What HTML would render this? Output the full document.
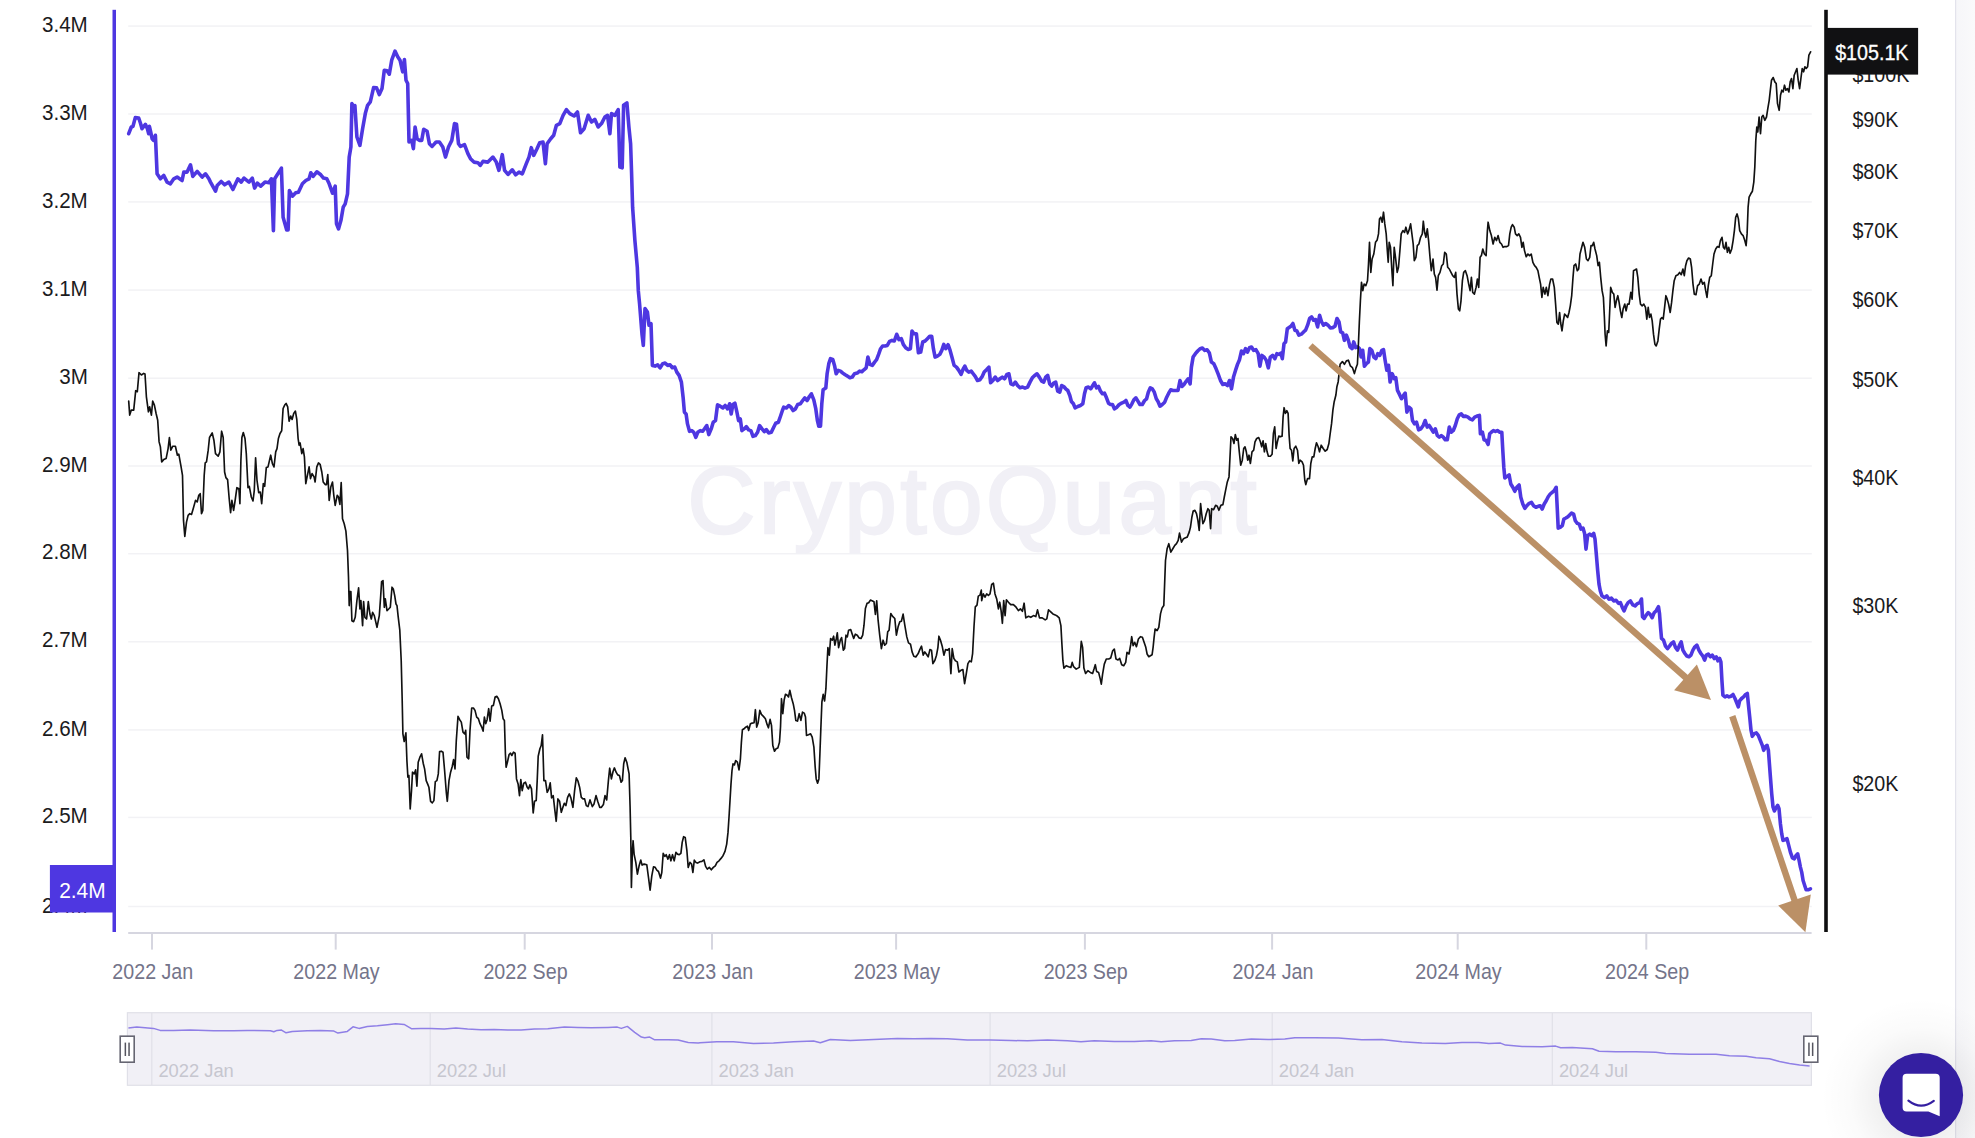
<!DOCTYPE html><html><head><meta charset="utf-8"><title>Chart</title><style>html,body{margin:0;padding:0;background:#fff;}body{width:1975px;height:1138px;overflow:hidden;position:relative;font-family:"Liberation Sans",sans-serif;}svg{display:block;position:absolute;left:0;top:0}text{font-family:"Liberation Sans",sans-serif;}</style></head><body>
<svg width="1975" height="1138" viewBox="0 0 1975 1138">
<defs><radialGradient id="glow" cx="50%" cy="50%" r="50%"><stop offset="0.4" stop-color="#000" stop-opacity="0.06"/><stop offset="0.7" stop-color="#000" stop-opacity="0.018"/><stop offset="1" stop-color="#000" stop-opacity="0"/></radialGradient><linearGradient id="strip" x1="0" x2="1" y1="0" y2="0"><stop offset="0" stop-color="#f6f6f9"/><stop offset="1" stop-color="#fafafb"/></linearGradient><clipPath id="wm"><rect x="600" y="400" width="800" height="153.7"/></clipPath></defs>
<rect width="1975" height="1138" fill="#fff"/>
<rect x="1956" y="0" width="19" height="1138" fill="url(#strip)"/>
<rect x="1955" y="0" width="1.2" height="1138" fill="#e3e3ec"/>
<rect x="128.2" y="25.35" width="1683.6" height="1.5" fill="#f2f2f5"/>
<rect x="128.2" y="113.25" width="1683.6" height="1.5" fill="#f2f2f5"/>
<rect x="128.2" y="201.15" width="1683.6" height="1.5" fill="#f2f2f5"/>
<rect x="128.2" y="289.35" width="1683.6" height="1.5" fill="#f2f2f5"/>
<rect x="128.2" y="377.45" width="1683.6" height="1.5" fill="#f2f2f5"/>
<rect x="128.2" y="465.25" width="1683.6" height="1.5" fill="#f2f2f5"/>
<rect x="128.2" y="552.95" width="1683.6" height="1.5" fill="#f2f2f5"/>
<rect x="128.2" y="641.05" width="1683.6" height="1.5" fill="#f2f2f5"/>
<rect x="128.2" y="729.15" width="1683.6" height="1.5" fill="#f2f2f5"/>
<rect x="128.2" y="816.65" width="1683.6" height="1.5" fill="#f2f2f5"/>
<rect x="128.2" y="905.75" width="1683.6" height="1.5" fill="#f2f2f5"/>
<g clip-path="url(#wm)"><text x="687.5" y="533.4" font-size="93.8" textLength="569" lengthAdjust="spacing" fill="#f1f0f6" stroke="#f1f0f6" stroke-width="2.5">CryptoQuant</text></g>
<rect x="128.2" y="932" width="1683.4" height="2" fill="#d6d6e0"/>
<rect x="151.0" y="933" width="2" height="16.6" fill="#d6d6e0"/>
<text transform="translate(152.80 979.20) scale(0.89 1)" font-size="22.1" text-anchor="middle" fill="#74748a">2022 Jan</text>
<rect x="334.7" y="933" width="2" height="16.6" fill="#d6d6e0"/>
<text transform="translate(336.50 979.20) scale(0.89 1)" font-size="22.1" text-anchor="middle" fill="#74748a">2022 May</text>
<rect x="523.7" y="933" width="2" height="16.6" fill="#d6d6e0"/>
<text transform="translate(525.50 979.20) scale(0.89 1)" font-size="22.1" text-anchor="middle" fill="#74748a">2022 Sep</text>
<rect x="711.0" y="933" width="2" height="16.6" fill="#d6d6e0"/>
<text transform="translate(712.80 979.20) scale(0.89 1)" font-size="22.1" text-anchor="middle" fill="#74748a">2023 Jan</text>
<rect x="895.1" y="933" width="2" height="16.6" fill="#d6d6e0"/>
<text transform="translate(896.90 979.20) scale(0.89 1)" font-size="22.1" text-anchor="middle" fill="#74748a">2023 May</text>
<rect x="1083.9" y="933" width="2" height="16.6" fill="#d6d6e0"/>
<text transform="translate(1085.70 979.20) scale(0.89 1)" font-size="22.1" text-anchor="middle" fill="#74748a">2023 Sep</text>
<rect x="1271.1" y="933" width="2" height="16.6" fill="#d6d6e0"/>
<text transform="translate(1272.90 979.20) scale(0.89 1)" font-size="22.1" text-anchor="middle" fill="#74748a">2024 Jan</text>
<rect x="1456.7" y="933" width="2" height="16.6" fill="#d6d6e0"/>
<text transform="translate(1458.50 979.20) scale(0.89 1)" font-size="22.1" text-anchor="middle" fill="#74748a">2024 May</text>
<rect x="1645.3" y="933" width="2" height="16.6" fill="#d6d6e0"/>
<text transform="translate(1647.10 979.20) scale(0.89 1)" font-size="22.1" text-anchor="middle" fill="#74748a">2024 Sep</text>
<text transform="translate(87.80 31.70) scale(0.95 1)" font-size="21.7" text-anchor="end" fill="#1b1b1d">3.4M</text>
<text transform="translate(87.80 119.60) scale(0.95 1)" font-size="21.7" text-anchor="end" fill="#1b1b1d">3.3M</text>
<text transform="translate(87.80 207.50) scale(0.95 1)" font-size="21.7" text-anchor="end" fill="#1b1b1d">3.2M</text>
<text transform="translate(87.80 295.70) scale(0.95 1)" font-size="21.7" text-anchor="end" fill="#1b1b1d">3.1M</text>
<text transform="translate(87.80 383.80) scale(0.95 1)" font-size="21.7" text-anchor="end" fill="#1b1b1d">3M</text>
<text transform="translate(87.80 471.60) scale(0.95 1)" font-size="21.7" text-anchor="end" fill="#1b1b1d">2.9M</text>
<text transform="translate(87.80 559.30) scale(0.95 1)" font-size="21.7" text-anchor="end" fill="#1b1b1d">2.8M</text>
<text transform="translate(87.80 647.40) scale(0.95 1)" font-size="21.7" text-anchor="end" fill="#1b1b1d">2.7M</text>
<text transform="translate(87.80 735.50) scale(0.95 1)" font-size="21.7" text-anchor="end" fill="#1b1b1d">2.6M</text>
<text transform="translate(87.80 823.00) scale(0.95 1)" font-size="21.7" text-anchor="end" fill="#1b1b1d">2.5M</text>
<text transform="translate(87.80 913.00) scale(0.95 1)" font-size="21.7" text-anchor="end" fill="#1b1b1d">2.4M</text>
<text transform="translate(1852.40 81.65) scale(0.912 1)" font-size="21.6" text-anchor="start" fill="#1b1b1d">$100K</text>
<text transform="translate(1852.40 126.65) scale(0.912 1)" font-size="21.6" text-anchor="start" fill="#1b1b1d">$90K</text>
<text transform="translate(1852.40 179.14) scale(0.912 1)" font-size="21.6" text-anchor="start" fill="#1b1b1d">$80K</text>
<text transform="translate(1852.40 238.40) scale(0.912 1)" font-size="21.6" text-anchor="start" fill="#1b1b1d">$70K</text>
<text transform="translate(1852.40 306.83) scale(0.912 1)" font-size="21.6" text-anchor="start" fill="#1b1b1d">$60K</text>
<text transform="translate(1852.40 387.02) scale(0.912 1)" font-size="21.6" text-anchor="start" fill="#1b1b1d">$50K</text>
<text transform="translate(1852.40 484.62) scale(0.912 1)" font-size="21.6" text-anchor="start" fill="#1b1b1d">$40K</text>
<text transform="translate(1852.40 612.56) scale(0.912 1)" font-size="21.6" text-anchor="start" fill="#1b1b1d">$30K</text>
<text transform="translate(1852.40 791.20) scale(0.912 1)" font-size="21.6" text-anchor="start" fill="#1b1b1d">$20K</text>
<path d="M128.7 133.7L131.3 127.0L133.0 126.3L135.3 117.6L138.7 118.0L140.4 123.0L142.0 128.7L145.4 124.3L147.4 128.7L148.7 133.7L149.4 126.3L150.7 132.0L152.1 138.7L153.7 140.4L155.4 135.3L157.1 173.8L160.4 178.8L163.7 175.4L167.1 182.1L170.4 183.8L173.8 178.8L177.1 177.1L182.1 180.5L183.8 172.1L187.1 172.1L190.5 164.8L192.8 176.4L197.2 171.4L202.2 177.1L205.5 173.8L208.9 178.8L210.5 182.1L215.5 191.2L217.2 185.5L221.2 181.5L224.6 184.8L228.9 182.1L232.9 189.5L237.9 178.8L241.3 182.1L244.0 178.1L249.0 182.1L252.3 178.1L254.6 188.1L257.3 183.1L260.7 186.1L265.0 182.1L269.0 182.8L271.4 178.8L273.4 230.6L274.7 178.8L281.4 168.1L283.1 217.2L286.7 229.9L288.1 229.9L289.4 190.5L292.4 196.2L295.7 192.8L298.4 192.2L302.4 183.8L305.8 180.5L309.1 178.8L310.8 172.8L313.1 176.4L316.8 171.8L320.8 174.8L323.5 178.1L326.8 178.8L329.2 183.8L332.5 193.2L335.2 186.1L336.5 223.9L338.5 228.9L340.9 220.6L343.2 207.2L345.2 203.8L347.5 193.8L349.2 157.1L350.9 147.0L351.9 103.6L353.6 106.3L354.9 105.6L356.9 137.0L359.9 145.4L362.6 128.7L365.3 113.6L367.6 105.3L370.3 101.9L373.6 87.6L376.6 87.9L379.3 94.6L382.0 88.6L384.3 70.2L387.0 70.8L389.3 74.2L391.7 60.2L395.0 51.1L397.7 56.8L400.0 60.2L402.7 71.8L404.4 59.5L406.0 80.2L407.7 83.5L409.0 142.0L411.7 140.4L413.4 148.7L415.1 127.0L417.1 138.7L419.4 140.4L421.7 140.4L423.7 129.3L427.1 131.3L429.4 143.7L432.1 146.4L436.1 142.0L439.4 142.0L442.8 147.0L445.5 157.1L448.5 147.0L451.8 140.4L454.5 123.6L456.5 124.3L458.5 143.7L460.5 146.4L464.5 144.7L467.9 153.7L470.5 158.7L473.9 162.1L477.9 162.7L480.2 165.4L482.9 161.4L487.9 162.1L492.9 157.1L496.3 162.1L498.9 170.4L502.3 154.7L504.6 170.4L508.0 174.4L512.3 169.8L515.6 174.8L519.0 172.1L522.3 173.8L526.3 163.7L529.0 157.1L531.3 147.7L533.7 155.4L537.0 148.7L539.7 142.7L543.0 142.0L545.4 163.7L547.1 143.7L550.7 138.7L553.7 135.3L556.4 125.3L559.8 123.6L563.1 115.3L566.4 109.6L569.8 113.6L574.1 116.0L577.5 112.0L580.5 132.7L584.1 128.7L588.2 115.3L591.5 122.0L594.8 119.3L598.2 127.0L601.5 123.6L604.9 117.0L607.5 115.3L609.9 133.7L611.5 113.6L614.9 115.3L618.2 109.6L619.9 167.1L622.2 167.8L623.6 105.3L626.9 102.9L628.9 127.0L630.6 143.7L631.6 173.8L632.6 207.2L634.9 240.6L637.3 267.3L638.3 290.7L639.6 304.1L642.0 334.2L643.3 345.2L643.3 345.4L645.0 308.6L647.4 312.0L649.0 325.3L651.0 323.6L652.4 365.4L655.0 366.1L657.7 364.8L660.1 367.8L662.7 363.7L665.1 363.1L667.7 365.4L670.1 364.8L672.4 367.8L674.8 367.1L676.8 372.1L679.1 375.4L681.4 382.1L683.1 397.2L684.4 412.2L686.1 413.9L687.5 423.9L689.5 431.3L691.8 430.6L693.8 432.3L695.8 437.3L697.8 432.3L700.2 430.6L702.5 431.3L704.5 428.9L706.8 425.6L708.8 434.6L711.2 428.9L713.2 422.2L715.5 420.6L717.5 404.9L720.2 406.2L722.9 407.9L725.2 405.5L727.6 408.9L729.6 403.8L731.2 413.9L732.9 404.5L734.9 403.2L736.9 412.2L738.6 420.6L740.3 418.9L741.9 430.6L744.3 428.9L746.3 426.6L748.6 429.9L750.9 430.6L753.0 436.3L755.3 435.6L757.6 432.3L759.6 425.6L762.0 428.9L764.3 431.6L766.3 429.6L768.7 432.9L771.3 432.3L773.7 427.2L775.7 423.2L778.4 422.2L780.4 416.5L782.4 410.5L783.7 407.2L786.4 407.9L788.7 405.5L791.0 407.2L793.1 410.5L795.4 408.9L797.7 404.5L800.4 403.8L802.7 400.5L804.8 397.8L807.1 400.5L809.4 396.5L811.4 393.8L813.8 399.8L815.8 408.9L817.4 420.6L818.8 426.2L820.5 426.2L821.8 403.8L823.1 389.8L825.8 388.1L827.1 373.8L828.8 363.7L830.5 358.7L832.8 359.4L834.5 365.4L836.2 373.8L838.2 370.4L840.5 371.1L842.8 373.1L845.2 374.8L847.5 376.1L849.9 377.8L852.2 377.1L854.5 373.8L857.2 373.1L859.6 371.1L861.9 371.8L863.9 369.8L866.2 367.8L867.9 357.1L869.9 364.4L872.3 365.4L874.6 362.1L876.6 359.7L878.6 354.4L880.6 348.7L882.6 346.0L885.0 346.0L887.3 345.4L889.6 341.4L892.0 340.4L894.3 341.0L896.7 334.3L899.0 339.7L901.3 338.7L903.3 344.4L905.7 347.7L908.0 349.4L910.4 348.7L912.0 331.0L914.0 333.7L916.4 333.7L918.4 352.7L920.7 352.1L922.7 342.0L925.1 341.0L927.4 338.7L929.7 336.3L931.7 336.3L933.4 348.7L935.1 357.1L937.4 356.1L939.8 354.4L941.8 350.4L943.8 344.4L945.8 348.7L948.1 344.7L950.1 350.4L952.1 357.7L954.1 365.4L956.5 367.1L958.8 370.4L961.1 374.4L963.2 368.8L964.8 366.1L966.8 370.4L968.8 372.1L971.2 371.1L973.2 373.8L975.2 376.4L977.5 380.5L979.9 379.8L982.2 376.4L984.2 372.1L986.5 369.8L988.9 367.1L990.6 382.8L992.9 380.5L995.2 377.1L997.6 380.5L999.9 378.8L1002.3 377.1L1004.6 378.8L1006.9 374.4L1008.9 373.8L1010.9 383.8L1013.3 384.8L1015.3 382.1L1017.6 385.5L1020.0 387.8L1022.6 387.1L1025.0 388.1L1027.6 387.1L1030.0 382.1L1032.3 377.8L1034.7 375.4L1037.0 373.8L1039.3 377.1L1041.7 381.1L1043.7 382.1L1045.7 377.1L1047.7 375.4L1049.7 383.8L1051.7 386.1L1053.7 383.1L1055.7 382.1L1057.7 391.2L1059.7 392.2L1061.7 385.5L1063.7 386.5L1065.7 388.8L1067.8 390.5L1069.8 395.5L1071.4 401.5L1073.4 403.8L1075.1 407.9L1077.8 406.5L1080.4 405.5L1082.8 403.8L1084.5 393.8L1086.1 387.8L1088.5 387.1L1090.8 388.8L1092.8 385.5L1094.5 382.8L1096.5 387.8L1098.5 386.5L1100.5 391.2L1102.5 393.8L1104.5 393.2L1106.5 397.8L1108.5 403.2L1110.5 404.5L1112.5 404.5L1114.5 408.9L1116.9 407.2L1119.2 404.5L1121.6 403.2L1123.9 402.2L1125.9 400.5L1127.9 405.5L1129.9 407.2L1131.9 403.8L1133.9 399.8L1135.9 397.8L1137.9 401.2L1139.9 404.5L1142.3 404.5L1144.6 400.5L1146.6 398.8L1148.3 392.2L1150.3 387.8L1152.3 388.8L1154.3 392.2L1156.3 398.8L1158.0 401.5L1160.0 406.2L1162.3 404.5L1164.7 402.2L1166.7 397.2L1168.7 393.2L1170.7 389.8L1173.0 390.5L1175.4 390.5L1178.0 390.5L1180.0 380.5L1182.0 386.5L1184.0 384.5L1186.0 381.5L1188.1 378.8L1190.1 383.8L1191.4 367.1L1193.1 357.1L1195.4 353.7L1197.7 351.0L1200.1 348.7L1202.4 348.0L1204.8 350.4L1207.1 349.7L1209.4 353.1L1211.4 362.1L1213.8 363.7L1216.1 368.8L1218.1 373.8L1220.5 380.5L1222.8 384.5L1225.1 383.8L1227.5 385.5L1229.5 380.5L1231.5 388.8L1233.5 377.1L1235.5 370.4L1237.5 364.4L1239.5 359.7L1241.5 351.0L1243.5 353.7L1245.5 348.7L1247.5 352.1L1249.5 347.7L1251.5 347.0L1253.6 350.4L1255.9 349.7L1258.2 353.7L1259.9 366.1L1261.9 355.4L1264.2 357.1L1266.3 360.4L1268.3 367.8L1270.3 357.1L1272.6 355.4L1274.9 358.7L1276.9 353.7L1279.0 354.4L1281.0 353.1L1282.3 358.7L1284.0 343.7L1285.6 342.0L1287.3 328.7L1290.9 326.2L1292.9 323.5L1294.9 330.2L1296.9 330.9L1298.9 335.2L1301.3 334.2L1303.6 331.9L1305.6 330.2L1307.6 325.2L1309.6 318.5L1311.6 316.9L1313.6 320.2L1315.6 319.5L1317.6 326.9L1319.6 315.2L1321.6 321.9L1323.6 325.2L1325.7 323.5L1328.0 325.2L1330.3 327.9L1332.7 327.6L1335.0 326.2L1337.0 318.5L1339.0 321.9L1340.7 331.9L1342.7 332.9L1344.4 340.3L1346.4 335.2L1348.4 340.3L1350.0 346.9L1352.1 348.6L1353.7 341.9L1355.7 347.6L1357.7 346.9L1359.4 348.6L1361.1 357.0L1362.7 350.3L1364.4 366.3L1366.4 363.6L1368.4 362.0L1369.8 348.6L1371.8 350.3L1373.8 357.0L1375.8 358.6L1377.8 353.6L1379.8 355.3L1381.8 350.3L1383.5 349.6L1385.1 360.3L1386.8 370.3L1388.5 365.3L1390.1 382.0L1392.2 373.7L1394.2 378.7L1395.8 377.7L1397.5 390.4L1399.5 394.4L1401.5 398.7L1403.5 395.4L1405.2 393.1L1406.9 412.1L1408.9 407.1L1410.9 408.8L1412.5 420.5L1414.5 423.8L1416.5 422.1L1418.6 429.8L1420.9 428.8L1423.2 425.5L1425.2 420.5L1427.2 427.1L1429.2 425.5L1431.3 428.8L1433.3 432.2L1435.3 428.8L1437.3 435.5L1439.3 437.2L1441.3 435.5L1443.3 437.2L1445.3 439.8L1447.3 439.8L1449.3 427.1L1451.3 432.2L1453.3 430.5L1455.3 425.5L1457.3 418.8L1459.3 414.8L1461.3 413.8L1463.3 416.4L1465.7 416.1L1468.0 417.1L1470.0 418.8L1472.4 419.8L1474.7 417.1L1477.0 416.1L1479.4 415.4L1480.4 433.8L1482.4 432.2L1484.1 439.8L1486.1 440.5L1488.1 444.5L1489.7 433.8L1491.4 432.2L1493.4 430.5L1495.4 431.5L1497.4 430.5L1499.8 432.2L1501.8 432.2L1502.8 450.5L1503.8 467.2L1504.8 477.9L1506.8 476.6L1509.1 474.9L1510.8 484.0L1512.8 487.3L1514.8 491.3L1516.8 487.3L1519.1 485.0L1520.8 497.3L1522.8 504.0L1524.8 508.3L1526.8 505.7L1529.2 503.3L1531.5 502.3L1533.5 505.7L1535.9 507.3L1538.2 506.3L1540.2 505.7L1542.2 509.0L1544.2 504.0L1546.2 500.7L1548.2 496.7L1550.2 494.0L1552.2 492.3L1554.2 490.6L1556.2 487.3L1557.2 507.3L1558.2 528.1L1560.2 527.4L1562.3 525.7L1563.9 519.0L1565.9 518.0L1567.9 516.7L1569.9 514.7L1571.6 513.0L1573.6 514.0L1575.3 520.7L1577.3 523.4L1579.3 524.1L1581.0 529.1L1583.0 528.1L1584.6 533.4L1586.0 549.1L1587.6 535.7L1589.7 534.1L1591.7 535.7L1593.7 533.4L1595.0 539.1L1596.3 554.1L1597.7 570.8L1599.0 584.2L1600.3 590.9L1602.0 595.9L1604.4 597.6L1606.7 595.9L1609.0 599.2L1611.4 598.2L1613.7 600.9L1616.1 600.2L1618.4 603.3L1620.4 602.6L1622.4 607.6L1624.1 610.9L1626.1 605.9L1628.1 602.6L1630.4 600.9L1632.8 604.9L1635.1 605.9L1637.4 603.6L1639.8 602.6L1641.5 599.0L1642.5 616.7L1644.2 618.4L1646.2 615.1L1648.2 612.7L1650.2 614.4L1652.2 617.7L1654.2 612.7L1656.2 610.7L1658.5 606.7L1659.5 613.4L1660.5 626.8L1661.5 638.4L1663.5 640.1L1665.5 646.1L1667.5 648.5L1669.5 646.1L1671.5 643.4L1673.5 641.8L1675.5 647.5L1677.5 650.1L1679.5 645.1L1681.2 641.8L1682.9 650.1L1684.9 653.5L1686.9 656.1L1688.9 656.8L1690.9 655.1L1692.9 650.1L1694.9 646.8L1696.9 645.1L1698.9 650.1L1700.9 653.5L1702.9 656.1L1704.6 660.1L1706.3 655.1L1708.3 654.1L1710.3 656.8L1712.3 655.1L1714.3 658.5L1716.3 656.8L1717.9 660.8L1719.6 658.5L1720.9 661.8L1721.9 680.2L1722.9 695.2L1725.0 696.9L1727.0 695.9L1729.0 696.9L1731.0 696.2L1733.0 694.5L1735.0 698.5L1737.0 703.5L1738.3 706.9L1739.6 700.9L1741.6 698.5L1743.6 696.9L1745.6 694.5L1747.3 693.5L1748.3 703.5L1749.7 716.9L1751.0 730.2L1752.3 736.3L1754.3 733.6L1756.3 732.9L1758.3 735.3L1760.3 740.3L1762.3 745.3L1763.7 750.3L1765.3 746.9L1767.0 745.3L1768.4 750.3L1769.4 763.6L1770.4 777.0L1771.7 793.7L1773.0 807.0L1774.4 811.0L1776.0 807.7L1777.7 805.4L1779.0 808.7L1780.4 823.7L1781.7 833.7L1783.0 840.4L1785.0 839.7L1787.0 838.7L1788.7 845.4L1790.4 852.1L1792.4 857.8L1794.4 858.8L1796.1 855.4L1797.7 853.8L1799.1 860.4L1800.4 867.1L1801.7 872.1L1803.1 880.5L1804.7 885.5L1806.1 889.8L1808.1 889.8L1810.4 888.8" fill="none" stroke="#4e37e1" stroke-width="3.6" stroke-linejoin="round" stroke-linecap="round"/>
<path d="M128.7 401.1L129.7 415.1L131.3 410.1L133.7 410.1L135.7 390.7L137.3 391.7L139.0 372.7L141.4 375.0L143.7 373.4L145.0 374.0L146.4 396.8L148.4 411.8L149.7 406.8L151.4 415.1L152.7 401.1L154.4 405.1L156.1 413.5L157.7 420.2L159.1 441.9L160.4 446.9L161.7 461.9L163.7 459.6L166.1 458.6L168.1 448.6L169.4 437.5L170.8 450.2L172.8 446.2L175.4 446.2L177.4 455.2L178.8 454.2L181.1 466.9L182.5 475.3L183.5 520.4L184.8 536.4L186.5 522.1L188.1 515.4L189.8 513.7L191.5 514.4L193.2 508.7L195.5 500.4L197.2 502.0L198.8 495.3L200.2 493.7L201.5 513.7L202.8 510.4L204.2 475.3L205.2 462.9L206.5 461.9L208.2 450.2L209.5 437.5L212.2 432.9L213.9 440.2L215.5 453.6L218.2 456.2L219.9 451.9L221.6 431.2L223.2 437.5L224.6 472.0L225.9 477.6L227.6 479.6L229.2 498.7L230.6 512.7L231.9 500.4L233.6 510.4L234.9 502.0L236.9 487.7L238.9 488.7L239.9 503.7L240.9 460.3L241.9 437.5L243.3 432.5L245.0 438.5L246.3 453.6L248.0 487.7L249.3 486.3L251.3 497.0L253.0 501.0L254.3 490.3L255.6 457.9L257.0 480.3L258.7 492.7L260.3 492.0L261.7 503.7L263.3 483.6L264.7 486.3L266.3 467.6L268.0 466.9L270.7 455.2L272.4 463.6L274.0 466.9L275.7 451.9L277.0 448.6L278.4 438.5L280.0 433.5L281.7 430.8L283.1 408.5L284.7 405.1L286.1 403.4L287.7 406.8L289.1 421.2L290.7 416.1L292.1 419.5L293.7 413.5L295.4 411.1L296.8 419.5L298.1 438.5L299.1 445.2L300.1 442.9L301.8 453.6L303.1 448.6L304.4 456.9L305.8 483.6L307.4 475.3L309.1 466.9L310.5 478.6L312.1 473.6L314.1 477.0L315.1 482.0L316.8 466.9L318.5 462.9L320.1 464.3L321.8 472.0L323.2 482.0L325.2 484.6L326.5 484.6L327.8 474.6L329.2 500.4L330.8 487.0L332.5 482.0L333.8 495.3L335.2 505.4L337.2 495.3L338.5 497.0L339.9 504.4L341.2 482.6L342.5 518.7L344.2 523.7L345.9 531.1L347.5 550.5L348.5 577.2L349.2 605.6L349.9 591.6L350.9 591.6L351.9 620.7L353.6 621.7L355.2 617.3L356.9 600.6L358.6 587.9L359.9 609.0L360.9 600.6L362.6 625.7L363.6 601.6L364.9 617.3L366.6 619.0L368.3 601.6L369.9 614.0L371.3 619.0L372.6 612.3L374.3 615.6L377.0 627.3L379.3 615.6L380.6 597.3L381.6 581.6L383.0 580.6L384.3 607.3L385.3 598.9L387.0 610.6L388.7 609.0L390.3 607.3L392.0 587.2L393.3 588.9L394.7 595.6L396.0 604.0L397.0 605.6L398.2 616.8L399.8 630.2L401.2 660.3L402.2 700.4L402.9 733.8L404.2 741.5L405.9 732.8L406.9 760.5L407.9 777.2L408.9 775.5L410.2 809.0L411.5 790.6L412.5 772.2L414.2 773.9L415.6 769.9L416.9 786.2L418.2 762.2L419.9 757.2L421.6 753.8L423.2 763.2L424.6 768.9L426.2 780.6L427.6 783.9L428.9 787.2L430.6 801.3L432.3 802.9L433.9 800.6L435.3 781.6L436.9 780.6L438.3 773.9L439.6 751.5L441.3 751.2L443.0 752.2L444.6 770.5L446.3 792.3L447.3 801.3L449.0 780.6L450.6 772.2L452.3 766.2L453.6 759.5L455.0 768.9L456.3 740.5L458.0 716.4L459.7 719.7L461.3 722.1L463.0 732.1L464.7 733.8L465.7 730.4L467.0 757.2L468.7 758.8L470.0 730.4L471.7 708.0L473.4 708.0L475.0 710.4L476.7 717.1L478.4 718.7L480.0 723.7L481.7 727.1L483.1 731.1L484.4 717.1L485.7 723.7L487.1 719.7L488.7 708.7L490.1 721.1L491.7 706.0L493.4 705.4L495.1 697.0L496.8 696.3L498.4 698.7L500.1 703.7L501.8 710.4L503.1 718.7L504.4 720.4L505.4 753.8L506.1 767.2L507.4 762.2L509.1 754.5L510.5 753.2L511.8 755.5L513.5 752.2L515.1 753.2L516.5 778.9L518.1 783.9L519.5 795.6L520.8 779.6L522.2 790.6L523.8 783.2L525.5 782.2L527.2 787.2L528.5 788.9L529.8 784.9L531.5 788.9L533.2 813.0L534.5 801.3L536.2 800.6L537.2 780.6L538.2 756.2L539.9 748.8L541.2 745.5L542.5 734.8L543.9 780.6L545.5 780.6L547.2 792.3L548.9 788.9L550.2 782.9L551.6 797.9L553.2 795.6L554.9 810.6L556.2 821.3L557.9 798.9L559.6 801.3L561.3 812.3L562.9 807.3L564.3 803.3L565.9 805.6L567.6 797.3L569.3 793.9L570.9 797.9L572.9 807.3L574.6 790.6L576.3 777.9L578.0 781.2L579.6 787.2L581.3 797.3L583.0 798.9L584.6 798.9L586.3 805.6L588.0 806.6L590.0 799.9L592.3 806.6L594.0 804.0L596.0 795.6L597.7 801.3L599.7 807.3L601.4 807.3L603.4 804.6L605.0 795.6L606.7 799.9L608.4 780.6L609.7 768.2L611.4 778.9L613.1 771.2L614.4 767.9L616.1 772.2L617.7 774.9L619.4 775.5L621.1 782.2L622.4 780.6L623.7 763.8L625.1 757.8L626.8 762.2L628.1 768.9L629.1 773.9L630.1 807.3L630.8 837.4L631.4 887.5L632.4 850.7L633.1 840.7L634.1 854.1L635.8 862.4L637.4 874.1L639.1 865.8L640.8 860.1L642.1 865.1L644.1 864.1L646.8 864.8L648.5 877.5L650.1 890.2L651.8 875.8L653.5 866.8L655.2 867.4L656.8 870.1L658.5 871.5L660.5 878.1L661.8 872.5L663.2 853.4L664.8 856.4L666.2 854.7L667.9 859.1L669.5 854.7L670.9 860.8L672.5 854.7L674.2 860.8L675.9 852.4L677.5 854.1L679.2 854.7L680.9 853.4L682.2 842.4L683.6 836.7L685.2 837.4L686.9 850.7L688.2 867.4L689.9 862.4L691.6 864.1L692.9 872.5L694.3 860.1L695.9 862.4L697.6 863.1L699.9 861.8L701.9 861.4L703.9 859.8L705.6 866.4L707.3 869.1L709.3 867.4L711.3 869.8L713.3 867.4L715.3 865.8L717.0 862.4L719.0 860.8L721.0 858.4L723.0 855.7L725.0 851.4L726.7 844.1L728.0 832.4L729.0 817.3L730.0 800.6L731.0 783.9L732.0 770.5L733.0 763.8L734.4 764.9L735.7 760.5L737.4 762.2L739.0 769.9L740.4 758.8L741.4 742.1L742.4 729.8L744.0 728.8L745.7 727.1L747.4 726.1L748.7 730.4L750.4 723.7L752.1 723.1L754.1 722.7L755.4 709.7L756.7 727.1L758.1 723.1L759.8 710.4L761.4 714.4L763.4 716.4L765.4 718.7L767.1 724.4L768.4 727.8L770.1 719.4L771.5 725.4L772.8 745.5L774.5 751.2L776.1 748.8L777.8 748.1L779.5 742.1L780.5 727.1L781.5 698.7L782.8 713.7L784.2 699.7L785.5 694.3L787.2 695.3L788.5 697.0L789.8 690.3L791.5 697.7L793.2 703.7L794.5 710.4L795.8 720.4L797.5 721.1L799.2 713.7L800.9 720.4L802.5 712.1L804.2 713.1L805.5 717.1L806.5 735.4L808.5 734.8L810.6 733.8L812.2 737.1L813.9 747.1L815.2 767.2L816.2 778.9L817.6 783.2L818.9 778.9L819.9 753.8L820.9 727.1L821.9 702.0L823.2 694.3L824.6 701.0L825.9 688.7L826.9 666.9L827.9 647.6L829.3 655.2L830.6 638.5L832.3 640.2L833.6 636.2L834.9 645.2L836.3 638.5L837.3 632.9L838.6 647.6L840.3 640.2L841.6 637.5L843.3 650.2L844.6 648.6L846.0 635.2L847.3 636.9L848.6 630.2L850.7 629.5L852.0 633.5L853.7 638.5L855.3 634.2L857.3 635.2L859.0 637.9L861.0 638.5L862.7 635.2L864.0 625.2L865.4 608.5L867.0 603.4L868.7 602.8L870.4 600.1L872.0 600.8L874.0 601.8L875.4 614.5L876.7 600.8L878.1 620.2L879.7 635.2L881.4 648.6L883.1 640.2L884.7 645.2L886.4 643.5L887.7 631.8L889.1 630.2L890.8 613.5L892.4 616.1L894.8 618.5L896.4 635.2L898.1 626.8L899.8 621.8L901.4 621.2L903.1 614.1L904.8 625.2L906.8 636.9L908.5 642.9L910.5 644.2L912.1 651.9L913.8 656.2L915.8 656.9L918.2 653.6L919.8 649.6L921.5 646.2L923.2 655.2L924.8 651.9L926.5 654.2L928.2 656.9L929.9 649.6L931.5 650.2L932.9 663.6L934.9 660.3L936.5 655.2L937.9 647.6L938.9 636.2L940.5 640.2L942.2 646.2L943.9 655.2L945.6 649.6L947.6 650.2L949.2 648.6L950.9 673.6L952.2 648.6L953.9 658.6L955.6 660.9L957.3 661.9L958.9 672.0L960.9 670.3L962.9 669.6L964.6 683.6L966.3 673.6L967.9 663.6L969.6 660.9L971.3 661.9L972.6 653.6L974.0 626.8L975.3 606.8L977.0 605.1L978.3 596.1L980.0 595.1L981.3 590.1L981.7 600.6L983.3 593.9L985.0 597.2L986.7 593.9L988.4 595.5L990.0 593.9L991.7 584.5L993.4 583.2L995.0 593.9L996.7 598.9L998.4 608.9L999.7 602.2L1001.1 610.6L1002.4 623.3L1003.7 600.6L1005.1 615.6L1006.4 599.9L1008.4 602.2L1010.7 604.6L1013.4 604.6L1016.1 607.2L1018.4 610.6L1020.4 608.9L1022.4 611.3L1024.1 603.2L1025.8 617.9L1028.5 616.3L1030.8 617.3L1033.5 615.6L1035.8 616.6L1037.5 609.9L1039.5 617.9L1042.2 617.9L1045.2 619.9L1046.8 618.9L1048.5 609.9L1050.2 611.3L1052.9 613.9L1055.2 614.9L1057.5 616.3L1059.2 617.9L1060.9 625.6L1061.9 644.0L1062.9 660.7L1063.9 668.1L1066.2 665.7L1068.6 666.7L1070.9 667.4L1072.2 662.4L1073.6 666.7L1076.2 669.1L1079.3 667.4L1080.3 654.0L1081.3 641.3L1082.6 647.3L1083.9 668.1L1085.6 673.4L1087.9 670.7L1090.3 672.4L1092.6 673.4L1094.0 669.1L1095.3 664.7L1096.6 671.4L1098.6 672.4L1100.3 679.1L1101.3 684.1L1102.6 674.1L1104.3 664.1L1106.3 659.0L1108.7 659.0L1110.7 658.0L1112.7 650.7L1114.3 649.0L1116.0 659.0L1118.0 660.0L1119.7 658.4L1121.7 664.7L1123.7 665.7L1125.7 662.4L1127.0 652.4L1129.0 654.0L1130.7 644.7L1131.7 636.7L1133.1 645.7L1134.7 642.3L1136.4 646.7L1138.4 639.0L1140.4 636.7L1142.4 637.3L1144.1 642.3L1145.8 647.3L1147.1 654.0L1148.8 656.7L1150.4 655.7L1152.1 654.7L1153.1 647.3L1154.1 637.3L1155.1 629.0L1157.1 630.6L1158.8 627.3L1160.5 613.9L1162.1 607.9L1163.8 605.6L1164.5 587.2L1165.5 560.5L1167.1 548.8L1168.8 543.7L1170.8 552.1L1172.8 548.8L1174.8 545.4L1176.5 543.7L1178.2 540.4L1179.5 533.1L1181.5 542.1L1183.5 538.7L1185.5 537.7L1187.2 537.1L1189.2 532.1L1190.5 527.0L1191.9 517.0L1193.2 511.0L1194.9 510.3L1196.5 513.7L1197.9 520.4L1199.2 530.4L1200.6 503.6L1201.6 513.0L1202.9 523.7L1204.6 520.4L1206.2 513.7L1207.9 508.7L1209.2 510.3L1210.6 528.7L1211.6 508.7L1213.6 509.7L1215.6 505.3L1217.3 506.3L1218.9 510.3L1220.9 505.3L1222.9 504.6L1224.3 497.0L1225.6 490.3L1227.3 481.9L1229.0 476.9L1230.0 456.9L1231.0 436.8L1232.6 438.5L1234.0 443.5L1235.3 434.5L1236.7 440.2L1238.0 438.5L1239.3 451.8L1240.7 465.2L1242.3 460.2L1243.7 448.5L1245.0 446.8L1246.3 451.8L1247.7 460.2L1249.0 455.2L1250.4 463.5L1252.0 451.8L1253.7 450.2L1255.0 441.8L1256.7 438.5L1258.7 437.5L1260.4 441.8L1261.7 446.8L1263.1 440.8L1264.4 451.8L1265.7 443.5L1267.1 451.8L1268.4 456.2L1270.4 456.2L1272.1 454.2L1273.4 433.5L1274.7 426.8L1276.1 448.5L1277.4 441.8L1278.8 436.1L1280.1 436.8L1282.1 436.1L1283.1 416.8L1284.1 407.7L1285.4 413.4L1286.8 410.7L1288.1 413.4L1289.1 435.1L1290.1 448.5L1291.5 450.2L1292.8 460.9L1294.1 448.5L1295.8 446.2L1297.5 450.2L1298.8 463.5L1300.1 460.2L1302.1 461.9L1303.5 465.2L1304.8 480.3L1305.8 484.6L1307.5 478.6L1309.5 478.6L1310.8 463.5L1312.2 456.9L1313.8 456.9L1315.2 448.5L1316.5 442.8L1318.2 446.8L1319.5 451.8L1321.2 445.2L1323.2 448.5L1325.2 451.2L1327.2 449.5L1328.9 443.5L1330.2 433.5L1331.6 423.4L1332.9 410.1L1334.2 401.7L1335.9 395.0L1336.9 386.7L1338.2 381.7L1340.1 364.3L1342.4 361.6L1344.4 364.3L1346.4 360.9L1348.4 360.2L1350.4 365.9L1352.4 367.6L1354.4 373.6L1356.1 367.6L1357.4 364.3L1358.4 344.2L1359.4 320.8L1360.4 300.8L1361.5 282.4L1362.8 290.7L1364.1 284.1L1365.8 285.7L1367.5 280.7L1368.5 264.0L1369.5 242.3L1370.8 272.4L1372.1 259.0L1373.8 254.0L1375.5 242.3L1377.2 239.9L1378.5 233.9L1379.5 218.9L1380.8 217.2L1382.2 222.2L1383.5 212.2L1384.8 223.9L1386.2 233.9L1387.2 249.0L1388.2 262.3L1389.2 242.3L1390.5 247.3L1391.9 270.7L1392.9 285.7L1394.2 247.3L1395.5 257.3L1397.2 272.4L1398.5 267.3L1399.9 250.6L1401.2 233.9L1402.9 230.6L1404.6 232.3L1405.9 227.2L1407.6 233.9L1408.9 230.6L1410.6 223.9L1411.9 233.9L1413.2 244.0L1414.3 260.7L1415.9 257.3L1417.3 245.6L1418.9 244.0L1420.6 237.3L1422.3 233.9L1423.3 221.2L1424.6 232.3L1425.9 237.3L1427.3 228.9L1428.6 240.6L1430.0 257.3L1431.3 270.7L1433.0 259.0L1434.3 274.0L1435.6 277.4L1437.0 290.1L1438.3 275.7L1440.0 272.4L1441.7 265.7L1443.3 264.0L1444.7 252.3L1446.3 254.0L1447.7 267.3L1449.3 269.0L1451.0 272.4L1452.7 275.7L1454.4 277.4L1455.7 272.4L1457.0 294.1L1458.4 309.1L1459.7 310.8L1461.0 300.8L1462.4 280.7L1463.7 272.4L1465.4 270.7L1467.1 275.7L1468.7 284.1L1470.1 290.7L1471.4 277.4L1472.7 292.4L1474.4 294.1L1476.1 287.4L1477.4 279.0L1478.7 287.4L1480.1 257.3L1481.4 255.6L1482.8 249.0L1484.4 254.0L1486.1 255.6L1487.4 230.6L1488.1 222.2L1489.8 230.6L1491.4 235.6L1493.1 244.0L1494.8 237.3L1496.5 240.6L1498.1 235.6L1499.8 242.3L1501.5 244.0L1503.1 247.3L1504.8 246.6L1506.8 246.6L1508.5 245.6L1509.8 233.9L1511.2 227.2L1512.5 224.6L1514.2 227.2L1515.5 233.9L1517.2 235.6L1518.8 233.9L1520.5 237.3L1521.9 247.3L1523.2 242.3L1524.5 250.6L1526.2 256.7L1527.9 254.0L1529.5 255.6L1531.2 254.0L1532.9 262.3L1534.6 265.7L1536.2 267.3L1537.9 270.7L1539.2 277.4L1540.6 284.1L1541.9 297.4L1543.2 287.4L1544.9 294.1L1546.3 287.4L1547.9 295.7L1549.6 284.1L1550.9 279.0L1552.6 279.0L1554.3 287.4L1555.6 304.1L1556.9 322.5L1558.3 324.2L1559.6 312.5L1560.6 322.5L1562.0 330.8L1563.3 320.8L1564.6 314.1L1566.3 315.8L1567.6 317.5L1569.0 312.5L1570.3 305.8L1571.7 295.7L1573.0 277.4L1574.0 265.7L1575.7 264.0L1577.3 270.7L1578.7 269.0L1580.0 254.0L1581.7 247.3L1583.0 242.3L1584.7 247.3L1586.4 259.0L1588.0 260.7L1589.7 257.3L1591.0 245.6L1592.4 245.6L1593.7 242.3L1595.0 249.0L1596.7 255.6L1598.1 265.7L1599.4 262.3L1600.7 277.4L1602.1 290.7L1603.4 297.4L1604.4 317.5L1605.1 334.2L1606.1 345.9L1607.4 330.8L1608.7 332.5L1609.7 310.8L1610.7 287.4L1612.4 292.4L1613.8 294.1L1615.1 307.4L1616.4 300.8L1617.8 295.7L1619.1 302.4L1620.4 310.8L1621.8 317.5L1623.1 309.1L1624.8 304.1L1626.1 310.8L1627.5 304.1L1629.1 304.1L1630.8 292.4L1632.1 299.1L1633.5 270.7L1634.8 270.0L1636.5 269.0L1637.8 277.4L1639.2 294.1L1640.5 304.1L1642.2 305.8L1643.8 304.1L1645.5 307.4L1646.8 319.1L1648.2 307.4L1649.5 317.5L1650.9 314.1L1652.2 320.8L1653.5 334.2L1654.9 344.2L1656.2 345.9L1657.9 340.9L1659.2 329.2L1660.5 319.1L1661.9 317.5L1663.2 319.1L1664.6 307.4L1665.9 295.7L1667.2 299.1L1668.6 304.1L1670.2 312.5L1671.6 302.4L1672.9 290.7L1674.2 280.7L1675.9 275.7L1677.9 274.7L1679.6 272.4L1681.3 274.7L1682.9 269.0L1684.3 275.7L1685.6 265.7L1686.9 260.7L1688.6 258.0L1690.3 259.0L1691.6 267.3L1693.0 284.1L1694.3 294.1L1696.0 294.7L1697.6 285.7L1699.3 284.1L1701.0 279.0L1702.6 284.1L1704.3 282.4L1705.7 290.7L1707.0 297.4L1708.3 285.7L1709.7 277.4L1711.3 275.7L1712.7 264.0L1714.0 254.0L1715.7 249.0L1717.4 246.6L1719.0 247.3L1720.4 240.6L1722.0 237.3L1723.4 247.3L1724.7 249.0L1726.0 242.3L1727.4 252.3L1728.7 247.3L1730.1 253.3L1731.7 249.0L1733.1 240.6L1734.4 230.6L1735.7 217.2L1737.1 213.9L1738.4 218.9L1739.7 230.6L1741.4 233.9L1743.1 235.6L1744.8 240.6L1746.1 245.6L1747.1 233.9L1748.1 207.2L1749.1 197.2L1750.8 193.8L1752.4 191.2L1753.8 182.1L1754.8 167.1L1755.8 140.4L1756.8 127.0L1757.8 132.0L1759.1 117.0L1760.5 133.7L1761.8 117.0L1763.1 115.3L1764.8 120.3L1766.5 117.0L1767.8 108.6L1769.2 100.3L1770.5 88.6L1771.5 80.2L1773.2 77.5L1774.8 81.9L1776.2 83.5L1777.5 103.6L1779.2 110.3L1780.5 95.2L1781.8 90.2L1783.2 91.9L1784.5 85.2L1785.9 90.2L1787.5 88.6L1788.9 91.9L1790.2 81.9L1791.5 78.5L1792.9 88.6L1794.2 75.2L1795.6 71.8L1796.9 68.5L1798.2 80.2L1799.6 88.6L1800.9 78.5L1802.2 68.5L1803.6 71.8L1804.9 66.8L1806.2 68.5L1807.6 66.8L1808.9 55.1L1810.6 51.8" fill="none" stroke="#111" stroke-width="1.65" stroke-linejoin="round" stroke-linecap="round"/>
<line x1="1310.4" y1="345.6" x2="1686.3" y2="678.0" stroke="#bb9066" stroke-width="6.5"/><polygon points="1711.0,699.9 1674.1,690.2 1696.9,664.4" fill="#bb9066"/>
<line x1="1732.3" y1="716.1" x2="1794.8" y2="901.0" stroke="#bb9066" stroke-width="6.5"/><polygon points="1805.4,932.3 1778.2,905.6 1810.8,894.6" fill="#bb9066"/>
<rect x="112.5" y="9.8" width="3.5" height="922.2" fill="#4e37e1"/>
<rect x="1824.2" y="9.8" width="3.6" height="922.2" fill="#0f0f10"/>
<rect x="49.9" y="865" width="64.5" height="47.5" fill="#4e37e1"/>
<text transform="translate(82.40 898.00) scale(0.965 1)" font-size="21.7" text-anchor="middle" fill="#fff">2.4M</text>
<rect x="1826" y="27.9" width="92.1" height="46.7" fill="#111113"/>
<text transform="translate(1871.80 59.80) scale(0.912 1)" font-size="21.6" text-anchor="middle" fill="#fff" stroke="#fff" stroke-width="0.3">$105.1K</text>
<rect x="127.4" y="1012.7" width="1684" height="72.6" fill="#f1f0f6" stroke="#e0e0e8" stroke-width="1.2"/>
<rect x="151.2" y="1013" width="1.2" height="72" fill="#e0e0e8"/>
<text transform="translate(158.40 1077.00) scale(0.955 1)" font-size="19.2" text-anchor="start" fill="#c6c6cf">2022 Jan</text>
<rect x="429.6" y="1013" width="1.2" height="72" fill="#e0e0e8"/>
<text transform="translate(436.80 1077.00) scale(0.955 1)" font-size="19.2" text-anchor="start" fill="#c6c6cf">2022 Jul</text>
<rect x="711.3" y="1013" width="1.2" height="72" fill="#e0e0e8"/>
<text transform="translate(718.50 1077.00) scale(0.955 1)" font-size="19.2" text-anchor="start" fill="#c6c6cf">2023 Jan</text>
<rect x="989.5" y="1013" width="1.2" height="72" fill="#e0e0e8"/>
<text transform="translate(996.70 1077.00) scale(0.955 1)" font-size="19.2" text-anchor="start" fill="#c6c6cf">2023 Jul</text>
<rect x="1271.6" y="1013" width="1.2" height="72" fill="#e0e0e8"/>
<text transform="translate(1278.80 1077.00) scale(0.955 1)" font-size="19.2" text-anchor="start" fill="#c6c6cf">2024 Jan</text>
<rect x="1551.7" y="1013" width="1.2" height="72" fill="#e0e0e8"/>
<text transform="translate(1558.90 1077.00) scale(0.955 1)" font-size="19.2" text-anchor="start" fill="#c6c6cf">2024 Jul</text>
<path d="M128.4 1028.1L136.8 1027.1L153.5 1028.4L160.2 1030.4L173.5 1030.4L190.2 1030.1L213.6 1030.8L233.7 1030.8L247.0 1030.4L270.4 1030.8L273.8 1031.8L277.1 1030.4L281.5 1030.1L286.1 1032.8L292.2 1031.4L307.2 1030.8L320.6 1030.4L333.9 1031.1L337.9 1033.1L347.3 1031.4L353.0 1026.8L359.0 1028.4L367.3 1026.4L377.4 1025.8L387.4 1024.8L395.7 1023.8L404.1 1024.4L411.8 1028.8L420.8 1028.4L430.8 1028.4L444.2 1029.1L455.9 1028.1L467.6 1029.1L481.0 1029.8L494.3 1029.4L507.7 1030.1L521.1 1030.1L534.4 1029.1L547.8 1028.8L564.5 1027.1L577.9 1027.4L591.2 1027.8L608.0 1027.4L617.3 1027.1L621.3 1028.4L627.3 1026.4L634.7 1032.4L641.4 1037.1L644.7 1037.8L649.7 1037.1L654.7 1039.8L668.1 1039.8L678.1 1040.1L688.2 1042.5L698.2 1043.1L700.0 1042.8L716.7 1041.8L733.4 1041.8L753.5 1043.5L773.5 1043.1L793.6 1041.8L813.6 1041.1L820.3 1042.8L830.3 1039.5L850.4 1040.5L873.8 1039.5L897.2 1038.5L913.9 1038.8L930.6 1038.5L947.3 1038.8L967.3 1040.1L990.7 1040.1L1010.8 1040.5L1027.5 1040.8L1047.5 1040.1L1067.6 1040.8L1081.0 1041.8L1094.3 1040.8L1114.4 1041.5L1134.4 1041.5L1151.1 1040.8L1161.2 1041.8L1174.5 1040.8L1191.2 1040.5L1201.3 1038.8L1211.3 1039.1L1224.7 1040.8L1234.7 1040.5L1251.4 1039.1L1268.1 1039.5L1284.8 1039.1L1294.8 1037.8L1311.5 1037.8L1315.0 1037.8L1338.4 1038.1L1361.8 1039.8L1381.8 1039.5L1401.9 1041.8L1421.9 1043.1L1445.3 1043.5L1462.0 1042.5L1478.7 1042.5L1488.8 1043.5L1500.5 1043.1L1505.5 1045.1L1522.2 1046.5L1542.2 1046.8L1555.6 1046.1L1560.6 1047.8L1572.3 1047.5L1592.4 1048.8L1599.1 1051.2L1615.8 1051.8L1635.8 1051.8L1655.9 1052.2L1665.9 1053.5L1689.3 1054.2L1716.0 1054.2L1729.4 1055.8L1746.1 1056.2L1756.1 1057.8L1769.5 1058.8L1779.5 1061.5L1789.5 1063.5L1799.6 1064.9L1809.6 1065.9" fill="none" stroke="#8f7fe6" stroke-width="1.5" stroke-linejoin="round"/>
<rect x="120.2" y="1036.2" width="14" height="26" fill="#fff" stroke="#666672" stroke-width="1.6"/>
<rect x="124.6" y="1042.6" width="1.5" height="13.4" fill="#55555f"/><rect x="128.3" y="1042.6" width="1.5" height="13.4" fill="#55555f"/>
<rect x="1803.8" y="1036.2" width="14" height="26" fill="#fff" stroke="#666672" stroke-width="1.6"/>
<rect x="1808.2" y="1042.6" width="1.5" height="13.4" fill="#55555f"/><rect x="1811.9" y="1042.6" width="1.5" height="13.4" fill="#55555f"/>
<circle cx="1921" cy="1098" r="100" fill="url(#glow)"/>
<circle cx="1921" cy="1095" r="42.1" fill="#341fa1"/>
<path d="M1906.6 1073.8H1935.7a4 4 0 0 1 4 4V1116.2L1928.4 1111.4H1906.6a4 4 0 0 1-4-4V1077.8a4 4 0 0 1 4-4Z" fill="#fff"/>
<path d="M1908.4 1100.6Q1921 1110.4 1933.8 1100.8" fill="none" stroke="#341fa1" stroke-width="2.2" stroke-linecap="round"/>
</svg></body></html>
